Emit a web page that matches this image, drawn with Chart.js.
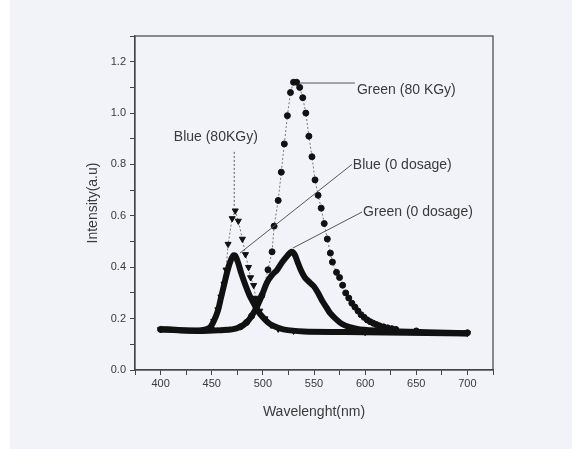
<!DOCTYPE html>
<html>
<head>
<meta charset="utf-8">
<script src="https://cdn.jsdelivr.net/npm/chart.js@4.4.1/dist/chart.umd.min.js"></script>
<style>
  html, body { margin: 0; padding: 0; }
  body { width: 572px; height: 449px; background: linear-gradient(to right, #ffffff 10px, #f1f3f9 10px); }
  canvas { display: block; }
</style>
</head>
<body>
<canvas id="spectraChart" width="572" height="449"></canvas>
<script>
// emission spectra (wavelength nm / intensity a.u.)
const blue0Wl = [400, 420, 440, 448, 452, 456, 459, 462, 465, 468, 471, 473, 476, 479, 483, 487, 491, 495, 500, 505, 510, 520, 540, 580, 620, 660, 700];
const blue0Int = [0.16, 0.155, 0.155, 0.165, 0.19, 0.23, 0.28, 0.33, 0.38, 0.42, 0.445, 0.445, 0.415, 0.375, 0.33, 0.29, 0.26, 0.23, 0.205, 0.185, 0.172, 0.158, 0.15, 0.148, 0.146, 0.144, 0.142];

const green0Wl = [400, 440, 460, 470, 478, 484, 489, 494, 499, 504, 509, 514, 519, 524, 528, 531, 534, 537, 541, 546, 550, 554, 558, 562, 566, 571, 577, 584, 595, 620, 660, 700];
const green0Int = [0.158, 0.152, 0.155, 0.158, 0.168, 0.185, 0.21, 0.245, 0.29, 0.34, 0.37, 0.39, 0.42, 0.445, 0.46, 0.45, 0.42, 0.39, 0.36, 0.34, 0.325, 0.3, 0.27, 0.245, 0.22, 0.2, 0.18, 0.168, 0.158, 0.152, 0.147, 0.143];

const blue80Wl = [400, 450, 452, 456, 459, 462, 464, 466, 470, 473, 476, 480, 483, 486, 488, 491, 493, 497, 502, 508, 515, 530, 600, 700];
const blue80Int = [0.158, 0.158, 0.19, 0.235, 0.285, 0.335, 0.39, 0.49, 0.59, 0.62, 0.58, 0.51, 0.45, 0.4, 0.36, 0.33, 0.28, 0.23, 0.2, 0.175, 0.16, 0.152, 0.147, 0.143];

const green80Wl = [400, 478, 484, 489, 494, 499, 505, 509, 511, 515, 518, 521, 524, 527, 530, 533, 536, 539, 542, 545, 548, 551, 554, 557, 560, 563, 566, 568, 572, 575, 578, 581, 584, 587, 590, 593, 596, 599, 602, 605, 608, 611, 614, 618, 622, 626, 630, 650, 700];
const green80Int = [0.158, 0.168, 0.185, 0.21, 0.245, 0.29, 0.39, 0.46, 0.56, 0.66, 0.77, 0.88, 0.99, 1.08, 1.12, 1.12, 1.1, 1.06, 1.0, 0.91, 0.83, 0.74, 0.68, 0.63, 0.57, 0.51, 0.455, 0.42, 0.38, 0.36, 0.33, 0.3, 0.28, 0.26, 0.245, 0.23, 0.215, 0.205, 0.195, 0.188, 0.182, 0.177, 0.172, 0.168, 0.164, 0.161, 0.158, 0.152, 0.145];

// labels with their leader lines, in data units
const notes = [
  { text: 'Green (80 KGy)', x: 592, y: 1.09, align: 'left', from: [536, 1.117], to: [590, 1.117], dash: [] },
  { text: 'Blue (80KGy)', x: 454, y: 0.907, align: 'center', from: [472, 0.849], to: [472, 0.634], dash: [2, 2] },
  { text: 'Blue (0 dosage)', x: 588, y: 0.798, align: 'left', from: [587, 0.8], to: [477.6, 0.455], dash: [] },
  { text: 'Green (0 dosage)', x: 598, y: 0.615, align: 'left', from: [597, 0.615], to: [529.5, 0.475], dash: [] }
];

const pairs = (xs, ys) => xs.map((x, i) => ({ x: x, y: ys[i] }));

const ink = '#111';
const textInk = '#3a3a3a';

const frameAndNotes = {
  id: 'frameAndNotes',
  afterDraw(chart) {
    const { ctx, chartArea: a, scales: { x, y } } = chart;
    ctx.save();
    ctx.strokeStyle = '#444';
    ctx.lineWidth = 1.2;
    ctx.strokeRect(a.left, a.top, a.right - a.left, a.bottom - a.top);

    ctx.font = '14px "Liberation Sans", Arial, sans-serif';
    ctx.textBaseline = 'middle';
    notes.forEach(n => {
      ctx.beginPath();
      ctx.setLineDash(n.dash);
      ctx.strokeStyle = '#555';
      ctx.lineWidth = 1;
      ctx.moveTo(x.getPixelForValue(n.from[0]), y.getPixelForValue(n.from[1]));
      ctx.lineTo(x.getPixelForValue(n.to[0]), y.getPixelForValue(n.to[1]));
      ctx.stroke();
      ctx.setLineDash([]);
      ctx.fillStyle = textInk;
      ctx.textAlign = n.align;
      ctx.fillText(n.text, x.getPixelForValue(n.x), y.getPixelForValue(n.y));
    });
    ctx.restore();
  }
};

Chart.defaults.font.family = '"Liberation Sans", Arial, sans-serif';
Chart.defaults.color = textInk;

new Chart(document.getElementById('spectraChart'), {
  type: 'scatter',
  data: {
    datasets: [
      {
        label: 'Blue (0 dosage)',
        data: pairs(blue0Wl, blue0Int),
        showLine: true,
        borderColor: ink,
        borderWidth: 6,
        pointRadius: 0,
        tension: 0.3
      },
      {
        label: 'Green (0 dosage)',
        data: pairs(green0Wl, green0Int),
        showLine: true,
        borderColor: ink,
        borderWidth: 6,
        pointRadius: 0,
        tension: 0.3
      },
      {
        label: 'Blue (80KGy)',
        data: pairs(blue80Wl, blue80Int),
        showLine: true,
        borderColor: '#777',
        borderWidth: 1,
        borderDash: [2, 2],
        pointStyle: 'triangle',
        rotation: 180,
        pointRadius: 3.5,
        pointBackgroundColor: ink,
        pointBorderColor: ink,
        tension: 0
      },
      {
        label: 'Green (80 KGy)',
        data: pairs(green80Wl, green80Int),
        showLine: true,
        borderColor: '#777',
        borderWidth: 1,
        borderDash: [2, 2],
        pointStyle: 'circle',
        pointRadius: 3,
        pointBackgroundColor: ink,
        pointBorderColor: ink,
        tension: 0
      }
    ]
  },
  options: {
    responsive: false,
    animation: false,
    layout: { padding: { left: 85, right: 79, top: 36, bottom: 28 } },
    plugins: {
      legend: { display: false },
      tooltip: { enabled: false }
    },
    scales: {
      x: {
        type: 'linear',
        min: 375,
        max: 725,
        afterFit: s => { s.height = 51; },
        border: { color: '#444', width: 1.2 },
        grid: { drawOnChartArea: false, tickLength: 5, color: '#444' },
        ticks: {
          stepSize: 25,
          autoSkip: false,
          maxRotation: 0,
          padding: 2,
          font: { size: 11 },
          callback: v => (v % 50 === 0 ? String(v) : '')
        },
        title: { display: true, text: 'Wavelenght(nm)', font: { size: 14 }, padding: 0 }
      },
      y: {
        min: 0,
        max: 1.3,
        afterFit: s => { s.width = 50; },
        border: { color: '#444', width: 1.2 },
        grid: { drawOnChartArea: false, tickLength: 5, color: '#444' },
        ticks: {
          stepSize: 0.1,
          autoSkip: false,
          padding: 4,
          font: { size: 11 },
          callback: v => (Math.round(v * 10) % 2 === 0 ? v.toFixed(1) : '')
        },
        title: { display: true, text: 'Intensity(a.u)', font: { size: 14 }, padding: 0 }
      }
    }
  },
  plugins: [frameAndNotes]
});
</script>
</body>
</html>
